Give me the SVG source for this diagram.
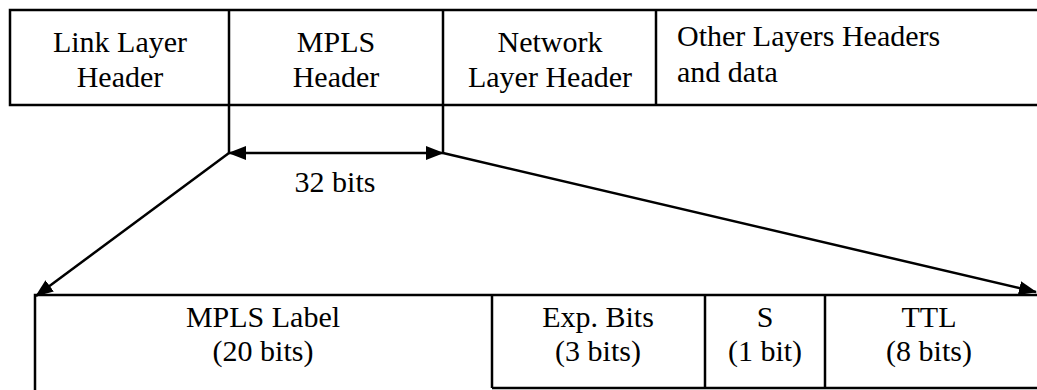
<svg xmlns="http://www.w3.org/2000/svg" width="1037" height="390" viewBox="0 0 1037 390">
<style>
.box{fill:none;stroke:#000;stroke-width:2.5}
.ln{fill:none;stroke:#000;stroke-width:2.5}
.t{font-family:"Liberation Serif","Times New Roman","DejaVu Serif",serif;font-size:30px;fill:#000}
.c{text-anchor:middle}
</style>
<defs>
<marker id="ah" markerUnits="userSpaceOnUse" markerWidth="18" markerHeight="14" refX="17" refY="7" orient="auto-start-reverse" viewBox="0 0 18 14">
<path d="M0,0 L18,7 L0,14 Z" fill="#000"/>
</marker>
</defs>
<rect width="1037" height="390" fill="#fff"/>
<g id="top-row">
<path class="box" d="M1037,10 H10 V105 H1037"/>
</g>
<g id="link-layer-header" class="t">
<text class="c" x="120" y="52" font-family="Liberation Serif, serif">Link Layer</text>
<text class="c" x="120" y="87" font-family="Liberation Serif, serif">Header</text>
</g>
<g id="mpls-header" class="t">
<line class="ln" x1="229" y1="10" x2="229" y2="154"/>
<line class="ln" x1="443" y1="10" x2="443" y2="154"/>
<text class="c" x="336" y="52">MPLS</text>
<text class="c" x="336" y="87">Header</text>
</g>
<g id="network-layer-header" class="t">
<line class="ln" x1="656" y1="10" x2="656" y2="105"/>
<text class="c" x="550" y="52">Network</text>
<text class="c" x="550" y="87">Layer Header</text>
</g>
<g id="other-layers" class="t">
<text x="677" y="46">Other Layers Headers</text>
<text x="677" y="82">and data</text>
</g>
<g id="bottom-row">
<path class="box" d="M1037,295 H35 V390"/>
<line class="ln" x1="492" y1="295" x2="492" y2="388"/>
<line class="ln" x1="705" y1="295" x2="705" y2="388"/>
<line class="ln" x1="825" y1="295" x2="825" y2="388"/>
<line class="ln" x1="492" y1="388" x2="1037" y2="388"/>
</g>
<g id="mpls-label" class="t">
<text class="c" x="263" y="327">MPLS Label</text>
<text class="c" x="263" y="361">(20 bits)</text>
</g>
<g id="exp-bits" class="t">
<text class="c" x="598" y="327">Exp. Bits</text>
<text class="c" x="598" y="361">(3 bits)</text>
</g>
<g id="s-bit" class="t">
<text class="c" x="765" y="327">S</text>
<text class="c" x="765" y="361">(1 bit)</text>
</g>
<g id="ttl" class="t">
<text class="c" x="929" y="327">TTL</text>
<text class="c" x="929" y="361">(8 bits)</text>
</g>
<g id="connectors">
<line class="ln" x1="229" y1="153" x2="443" y2="153" marker-start="url(#ah)" marker-end="url(#ah)"/>
<text class="t c" x="335" y="192">32 bits</text>
<line class="ln" x1="229" y1="153" x2="36" y2="296" marker-end="url(#ah)"/>
<line class="ln" x1="443" y1="153" x2="1036" y2="292" marker-end="url(#ah)"/>
</g>
</svg>
